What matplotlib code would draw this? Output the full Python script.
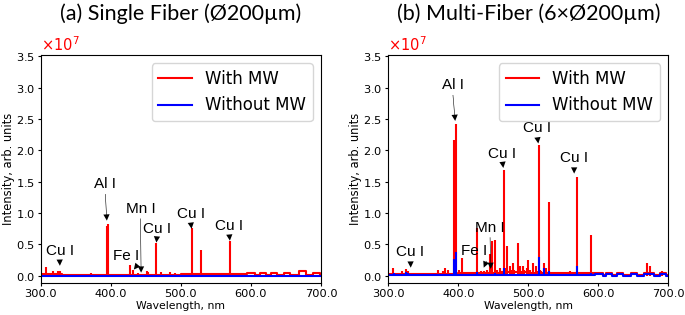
import matplotlib
matplotlib.use("Agg")
import matplotlib.pyplot as plt
from matplotlib.ticker import FormatStrFormatter, MultipleLocator

# ---- (a) single fiber: spectral lines (nm) and heights (x1e7)
a_mw_peak_wl = [308.0, 317.6, 322.0, 324.7, 327.4, 358.0, 372.0, 384.0, 394.4, 396.1,
                405.7, 427.2, 432.0, 439.0, 451.0, 453.0, 465.1, 472.0, 484.0, 491.0,
                501.0, 503.7, 510.5, 515.3, 521.8, 529.2, 570.0, 578.2, 582.0]
a_mw_peak_int = [0.14, 0.07, 0.05, 0.08, 0.08, 0.03, 0.04, 0.03, 0.80, 0.83,
                 0.03, 0.17, 0.10, 0.05, 0.08, 0.06, 0.53, 0.06, 0.06, 0.04,
                 0.04, 0.04, 0.04, 0.76, 0.04, 0.41, 0.55, 0.04, 0.04]
# continuum (step levels, x1e7)
a_mw_base_wl = [300, 330, 400, 500, 594, 606, 613, 622, 628, 637, 647, 656, 668, 678, 689, 699, 700]
a_mw_base = [0.03, 0.02, 0.02, 0.03, 0.05, 0.02, 0.05, 0.02, 0.05, 0.02, 0.05, 0.02, 0.07, 0.02, 0.05, 0.02, 0.02]
a_nomw_base_wl = [300, 700]
a_nomw_base = [0.0, 0.0]

# ---- (b) multi-fiber
b_mw_peak_wl = [307.0, 313.0, 316.7, 320.0, 324.8, 328.6, 352.0, 357.0, 371.0, 378.0,
                381.0, 385.7, 394.4, 396.1, 401.0, 404.8, 413.0, 421.5, 427.2, 432.0,
                436.0, 438.0, 441.0, 443.0, 445.5, 448.6, 452.4, 455.0, 459.6, 462.0,
                465.1, 468.0, 470.0, 474.0, 476.0, 478.5, 480.0, 484.8, 486.0, 488.0,
                490.0, 492.8, 494.0, 497.7, 500.0, 503.0, 507.0, 510.5, 512.0, 515.3,
                517.0, 518.0, 521.8, 524.0, 525.0, 529.2, 532.0, 537.0, 540.0, 554.8,
                560.0, 570.0, 583.4, 588.9, 669.0, 673.8, 690.5]
b_mw_peak_int = [0.12, 0.05, 0.03, 0.07, 0.11, 0.08, 0.03, 0.04, 0.10, 0.08,
                 0.12, 0.10, 2.17, 2.42, 0.10, 0.28, 0.05, 0.05, 0.76, 0.08,
                 0.07, 0.06, 0.09, 0.06, 0.35, 0.55, 0.57, 0.10, 0.12, 0.08,
                 1.68, 0.12, 0.48, 0.15, 0.10, 0.20, 0.09, 0.53, 0.12, 0.15,
                 0.08, 0.15, 0.10, 0.12, 0.25, 0.09, 0.20, 0.15, 0.08, 2.09,
                 0.10, 0.07, 0.20, 0.08, 0.12, 1.18, 0.06, 0.06, 0.05, 0.05,
                 0.08, 1.58, 0.06, 0.65, 0.20, 0.15, 0.07]
b_nomw_peak_wl = [308.0, 325.3, 327.4, 371.0, 394.4, 396.1, 427.2, 452.4, 465.1, 515.3,
                  521.8, 529.2, 570.0, 588.9]
b_nomw_peak_int = [0.05, 0.06, 0.05, 0.03, 0.27, 0.38, 0.06, 0.04, 0.12, 0.30,
                   0.12, 0.07, 0.15, 0.05]
b_mw_base_wl = [300, 340, 400, 460, 500, 540, 595, 607, 611, 620, 627, 635, 647, 656, 665, 680, 688, 697, 700]
b_mw_base = [0.03, 0.03, 0.04, 0.06, 0.05, 0.04, 0.04, 0.02, 0.04, 0.02, 0.04, 0.02, 0.04, 0.02, 0.04, 0.02, 0.04, 0.02, 0.02]
b_nomw_base_wl = [300, 340, 400, 500, 595, 607, 611, 620, 627, 635, 647, 656, 665, 680, 688, 697, 700]
b_nomw_base = [0.01, 0.01, 0.01, 0.01, 0.025, 0.005, 0.025, 0.005, 0.025, 0.005, 0.025, 0.005, 0.025, 0.005, 0.025, 0.005, 0.005]

# annotations: label, line wl, arrow tip, text wl, text height (x1e7)
a_labels = [("Cu I", 327.4, 0.16, 327.0, 0.40),
            ("Al I", 394.4, 0.88, 392.0, 1.46),
            ("Fe I", 432.9, 0.10, 421.4, 0.31),
            ("Mn I", 443.3, 0.05, 442.3, 1.07),
            ("Cu I", 465.1, 0.53, 466.0, 0.75),
            ("Cu I", 515.3, 0.75, 514.0, 0.98),
            ("Cu I", 570.0, 0.56, 569.0, 0.79)]
b_labels = [("Cu I", 332.0, 0.13, 331.7, 0.38),
            ("Al I", 395.5, 2.47, 392.0, 3.04),
            ("Fe I", 436.3, 0.13, 423.1, 0.39),
            ("Mn I", 446.3, 0.11, 445.3, 0.77),
            ("Cu I", 464.3, 1.72, 462.9, 1.95),
            ("Cu I", 514.3, 2.11, 512.7, 2.35),
            ("Cu I", 565.5, 1.63, 565.5, 1.88)]

SCALE = 1e7


def draw_panel(ax, mw_peaks, nomw_peaks, mw_base, nomw_base, labels, title):
    """draw one spectrum panel"""
    ax.step(mw_base[0], [v * SCALE for v in mw_base[1]], where='post', color='red', lw=1.5, label='With MW')
    ax.vlines(mw_peaks[0], 0, [v * SCALE for v in mw_peaks[1]], color='red', lw=1.5)
    ax.step(nomw_base[0], [v * SCALE for v in nomw_base[1]], where='post', color='blue', lw=1.5, label='Without MW')
    if nomw_peaks is not None:
        ax.vlines(nomw_peaks[0], 0, [v * SCALE for v in nomw_peaks[1]], color='blue', lw=1.5)

    for txt, x, y, tx, ty in labels:
        ax.annotate(txt, xy=(x, y * SCALE), xytext=(tx, ty * SCALE), ha='center', va='center',
                    fontsize=11, family='Liberation Sans',
                    arrowprops=dict(facecolor='black', edgecolor='none', width=0.4,
                                    headwidth=4.5, headlength=4.5, shrink=0.0))

    ax.set_xlim(300, 700)
    ax.set_ylim(-0.11 * SCALE, 3.52 * SCALE)
    ax.xaxis.set_major_locator(MultipleLocator(100))
    ax.xaxis.set_major_formatter(FormatStrFormatter('%.1f'))
    ax.yaxis.set_major_locator(MultipleLocator(0.5 * SCALE))
    ax.ticklabel_format(axis='y', style='sci', scilimits=(7, 7), useMathText=True)
    ax.yaxis.get_offset_text().set_color('red')
    ax.yaxis.get_offset_text().set_fontsize(10.5)
    ax.tick_params(labelsize=8.2, length=2, pad=2.2)
    ax.set_xlabel("Wavelength, nm", fontsize=7.8, labelpad=1.5)
    ax.set_ylabel("Intensity, arb. units", fontsize=8.3, labelpad=0.5)
    ax.legend(loc='upper right', fontsize=12)
    ax.set_title(title, fontsize=15.5, family='Lato', pad=25.5)


fig = plt.figure(figsize=(6.85, 3.15), dpi=100)
ax1 = fig.add_axes([0.0594, 0.1025, 0.4092, 0.7225])
ax2 = fig.add_axes([0.5669, 0.1025, 0.4087, 0.7225])

draw_panel(ax1, (a_mw_peak_wl, a_mw_peak_int), None,
           (a_mw_base_wl, a_mw_base), (a_nomw_base_wl, a_nomw_base),
           a_labels, "(a) Single Fiber (\u00d8200\u00b5m)")
draw_panel(ax2, (b_mw_peak_wl, b_mw_peak_int), (b_nomw_peak_wl, b_nomw_peak_int),
           (b_mw_base_wl, b_mw_base), (b_nomw_base_wl, b_nomw_base),
           b_labels, "(b) Multi-Fiber (6\u00d7\u00d8200\u00b5m)")

fig.savefig("out.png", dpi=100)
